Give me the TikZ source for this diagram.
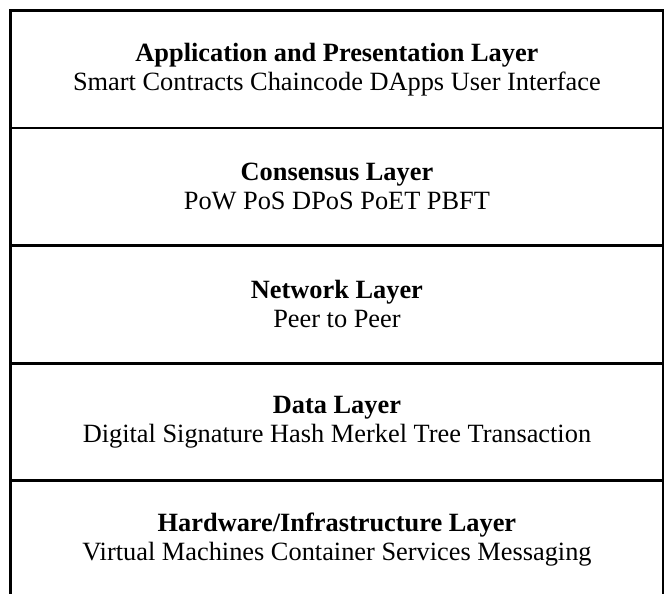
\documentclass[tikz,border=0pt]{standalone}
\usepackage{fontspec}
\setmainfont{Liberation Serif}
\usetikzlibrary{positioning}

\begin{document}
\begin{tikzpicture}[
        layer/.style={draw, line width=1.7pt, outer sep=0pt, inner sep=0pt,
            minimum width=13.05cm, minimum height=2.35cm, align=center,
            font=\fontsize{15}{16.5}\selectfont}
    ]
        \useasboundingbox (-6.739,1.385) rectangle ++(13.28,-11.86);
        \node[layer] (app) at (0,0)
            {\textbf{Application and Presentation Layer}\\Smart Contracts Chaincode DApps User Interface};
        \node[layer, below=0pt of app] (cons)
            {\textbf{Consensus Layer}\\PoW PoS DPoS PoET PBFT};
        \node[layer, below=0pt of cons] (net)
            {\textbf{Network Layer}\\Peer to Peer};
        \node[layer, below=0pt of net] (data)
            {\textbf{Data Layer}\\Digital Signature Hash Merkel Tree Transaction};
        \node[layer, below=0pt of data] (hw)
            {\textbf{Hardware/Infrastructure Layer}\\Virtual Machines Container Services Messaging};
    \end{tikzpicture}
\end{document}
